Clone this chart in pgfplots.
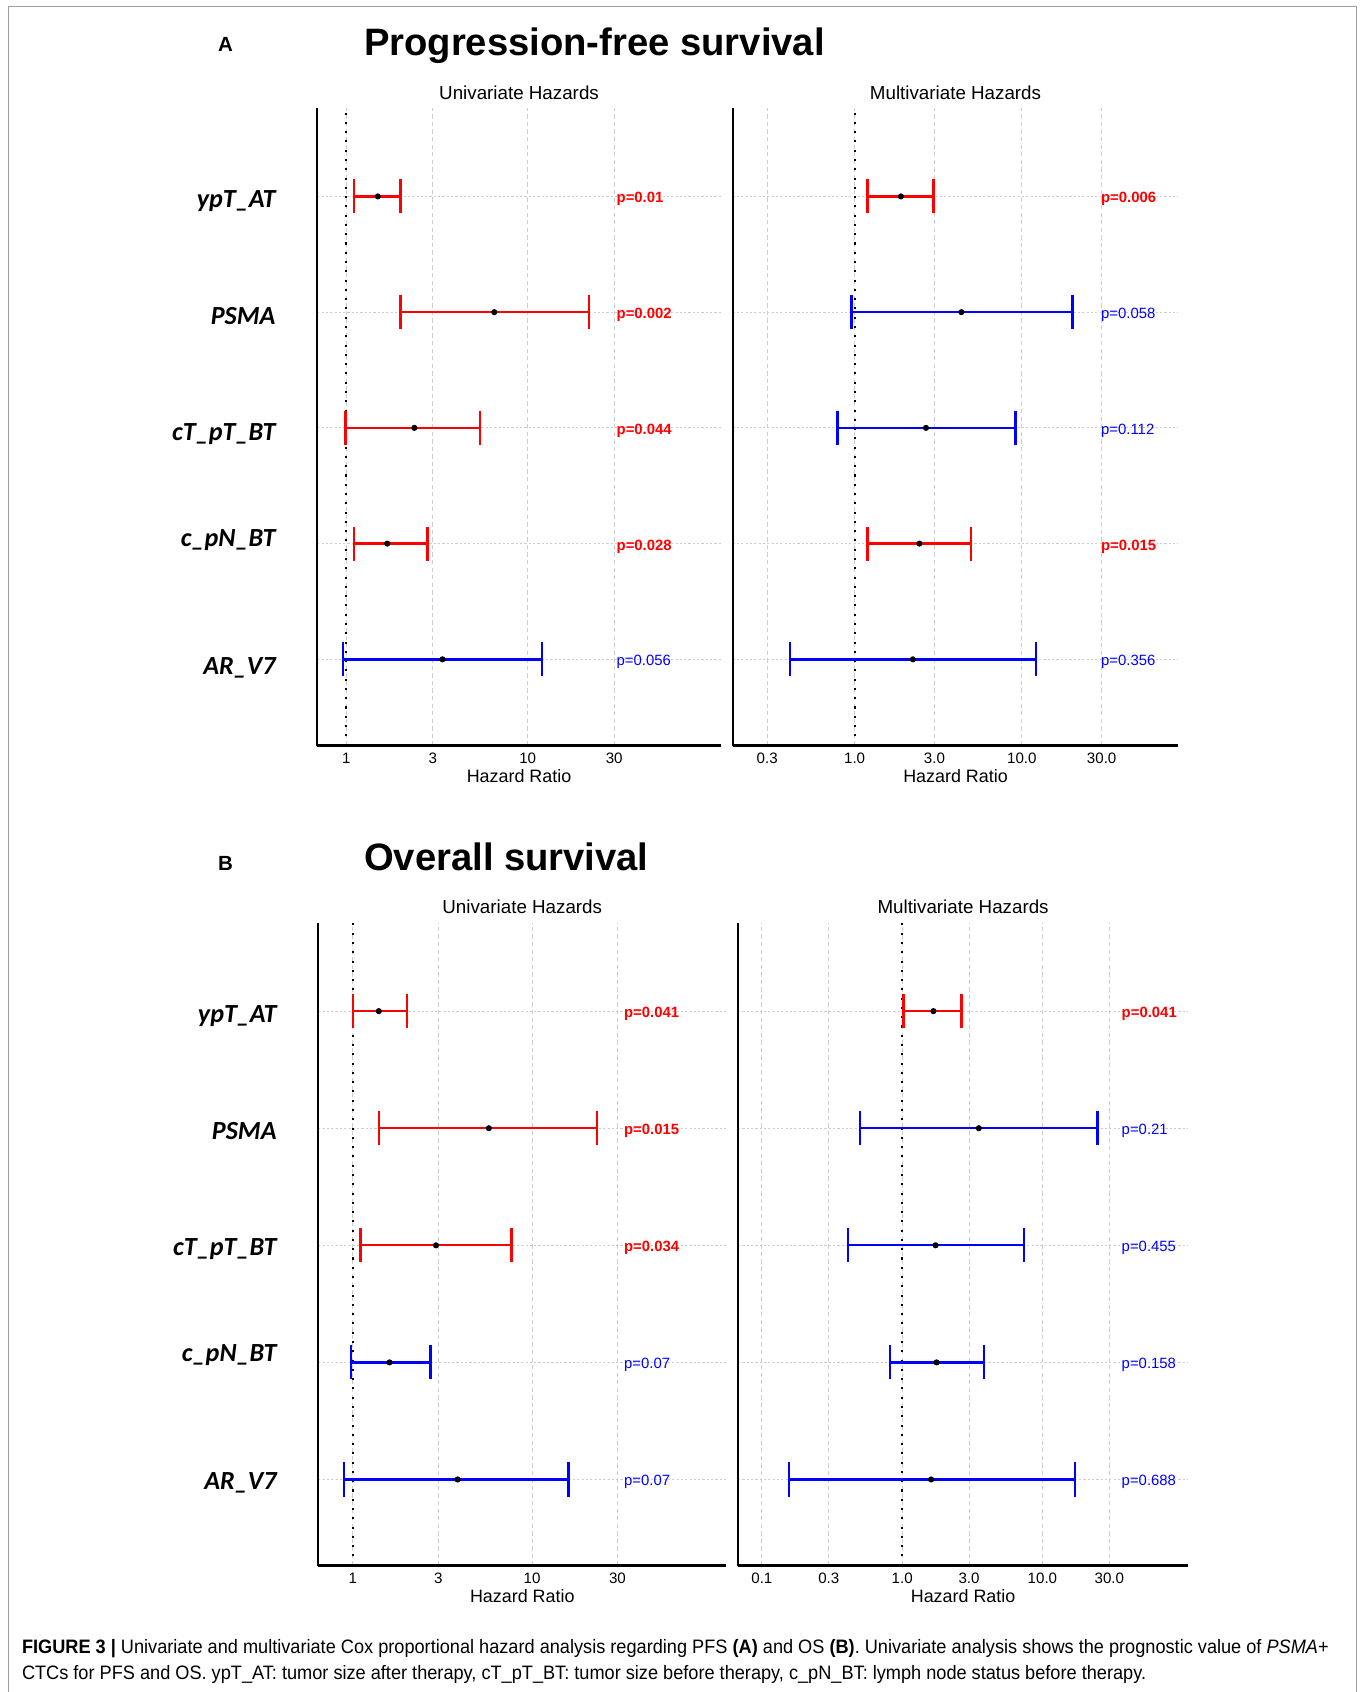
\documentclass[border=0pt]{standalone}
\usepackage{fontspec}
\setmainfont{Liberation Sans}
\newfontfamily\carlito{Carlito}
\newfontfamily\capfont[FakeStretch=0.935]{Liberation Sans}
\usepackage{pgfplots}
\pgfplotsset{compat=1.18}

\definecolor{pred}{RGB}{255,0,0}
\definecolor{pblue}{RGB}{0,0,255}
\definecolor{gridc}{RGB}{205,205,205}

\pgfplotsset{
  forest/.style={
    scale only axis,
    axis x line=bottom, axis y line=left,
    x axis line style={-, line width=1.4pt},
    y axis line style={-, line width=1pt},
    tick style={draw=none},
    minor tick length=0pt,
    xmajorgrids, ymajorgrids,
    x grid style={gridc, dash pattern=on 2pt off 1.5pt, line width=0.4pt},
    y grid style={gridc, dash pattern=on 1pt off 1pt, line width=0.4pt},
    ytick={1,2,3,4,5},
    yticklabel style={font=\carlito\bfseries\itshape\fontsize{12.1}{14}\selectfont, anchor=base east, inner sep=0pt, xshift=-17pt},
    xticklabel style={font=\fontsize{7}{8}\selectfont, anchor=base, inner sep=0pt, yshift=-6pt},
    title style={font=\fontsize{8.7}{10}\selectfont, at={(axis description cs:0.5,1)}, anchor=base, inner sep=0pt, yshift=-2pt},
    xlabel style={font=\fontsize{8.3}{10}\selectfont, at={(axis description cs:0.5,0)}, anchor=base, inner sep=0pt, yshift=-17pt},
    xlabel={Hazard Ratio},
    clip=false,
  },
}
\tikzset{
  ci/.style={line width=1.1pt, mark=|, mark size=7.9pt, mark options={solid, line width=1.1pt}},
  est/.style={mark=*, mark size=1.2pt, black, mark options={black}},
  refl/.style={black, line width=0.95pt, dash pattern=on 0.95pt off 3.35pt},
  pr/.style={anchor=base west, inner sep=0pt, yshift=-3pt, text=pred, font=\bfseries\fontsize{6.9}{8}\selectfont},
  pb/.style={anchor=base west, inner sep=0pt, yshift=-3pt, text=pblue, font=\fontsize{6.9}{8}\selectfont},
}

\newcommand{\ci}[4]{\addplot[ci, #1] coordinates {(#2,#4) (#3,#4)};}
\newcommand{\est}[2]{\addplot[only marks, est] coordinates {(#1,#2)};}

\begin{document}
\begin{tikzpicture}
\useasboundingbox (0pt,0pt) rectangle (631.5pt,-784pt);
\draw[gray!75, line width=0.7pt] (4pt,-784pt) -- (4pt,-3pt) -- (628.5pt,-3pt) -- (628.5pt,-784pt);

% Panel titles
\node[anchor=base, inner sep=0pt, font=\bfseries\fontsize{9.5}{11}\selectfont] at (104.5pt,-23.75pt) {A};
\node[anchor=base west, inner sep=0pt, font=\bfseries\fontsize{17.7}{20}\selectfont] at (168.5pt,-25.5pt) {Progression-free survival};
\node[anchor=base, inner sep=0pt, font=\bfseries\fontsize{9.5}{11}\selectfont] at (104.5pt,-403.25pt) {B};
\node[anchor=base west, inner sep=0pt, font=\bfseries\fontsize{17.7}{20}\selectfont] at (168.5pt,-403.5pt) {Overall survival};

% ---------- A: univariate ----------
\begin{axis}[xmode=log, forest, at={(147pt,-345.5pt)}, anchor=south west,
  width=187pt, height=295.5pt,
  xmin=0.6906, xmax=116.3, ymin=0.254, ymax=5.765,
  xtick={1,3,10,30}, xticklabels={1,3,10,30},
  yticklabels={\raisebox{-6.9pt}{AR\_V7}, \raisebox{-1.4pt}{c\_pN\_BT}\hspace{5pt}, \raisebox{-5.7pt}{cT\_pT\_BT}\hspace{1pt}, \raisebox{-5.7pt}{PSMA}\hspace{3.5pt}, \raisebox{-5pt}{ypT\_AT}\hspace{2pt}},
  title={Univariate Hazards}]
\addplot[refl] coordinates {(1,0.254) (1,5.765)};
\ci{pred}{1.10}{1.985}{5} \est{1.49}{5}
\ci{pred}{1.985}{21.8}{4} \est{6.54}{4}
\ci{pred}{0.99}{5.47}{3} \est{2.37}{3}
\ci{pred}{1.10}{2.80}{2} \est{1.68}{2}
\ci{pblue}{0.96}{11.95}{1} \est{3.39}{1}
\node[pr] at (axis cs:30.8,5) {p=0.01};
\node[pr] at (axis cs:30.8,4) {p=0.002};
\node[pr] at (axis cs:30.8,3) {p=0.044};
\node[pr] at (axis cs:30.8,2) {p=0.028};
\node[pb] at (axis cs:30.8,1) {p=0.056};
\end{axis}

% ---------- A: multivariate ----------
\begin{axis}[xmode=log, forest, at={(339.5pt,-345.5pt)}, anchor=south west,
  width=206.5pt, height=295.5pt,
  xmin=0.1866, xmax=86.2, ymin=0.254, ymax=5.765,
  xtick={0.3,1,3,10,30}, xticklabels={0.3,1.0,3.0,10.0,30.0},
  yticklabels={},
  title={Multivariate Hazards}]
\addplot[refl] coordinates {(1,0.254) (1,5.765)};
\ci{pred}{1.195}{2.96}{5} \est{1.89}{5}
\ci{pblue}{0.956}{20.1}{4} \est{4.35}{4}
\ci{pblue}{0.788}{9.15}{3} \est{2.67}{3}
\ci{pred}{1.195}{4.98}{2} \est{2.44}{2}
\ci{pblue}{0.41}{12.1}{1} \est{2.23}{1}
\node[pr] at (axis cs:29.6,5) {p=0.006};
\node[pb] at (axis cs:29.6,4) {p=0.058};
\node[pb] at (axis cs:29.6,3) {p=0.112};
\node[pr] at (axis cs:29.6,2) {p=0.015};
\node[pb] at (axis cs:29.6,1) {p=0.356};
\end{axis}

% ---------- B: univariate ----------
\begin{axis}[xmode=log, forest, at={(147.5pt,-725.5pt)}, anchor=south west,
  width=189pt, height=298pt,
  xmin=0.641, xmax=121.4, ymin=0.263, ymax=5.756,
  xtick={1,3,10,30}, xticklabels={1,3,10,30},
  yticklabels={\raisebox{-4.5pt}{AR\_V7}, \raisebox{0.3pt}{c\_pN\_BT}\hspace{5pt}, \raisebox{-4.6pt}{cT\_pT\_BT}\hspace{1pt}, \raisebox{-5.4pt}{PSMA}\hspace{3.5pt}, \raisebox{-5.4pt}{ypT\_AT}\hspace{2pt}},
  title={Univariate Hazards}]
\addplot[refl] coordinates {(1,0.263) (1,5.756)};
\ci{pred}{1.0}{2.0}{5} \est{1.395}{5}
\ci{pred}{1.395}{23.0}{4} \est{5.74}{4}
\ci{pred}{1.10}{7.68}{3} \est{2.91}{3}
\ci{pblue}{0.973}{2.71}{2} \est{1.60}{2}
\ci{pblue}{0.895}{16.0}{1} \est{3.84}{1}
\node[pr] at (axis cs:32.5,5) {p=0.041};
\node[pr] at (axis cs:32.5,4) {p=0.015};
\node[pr] at (axis cs:32.5,3) {p=0.034};
\node[pb] at (axis cs:32.5,2) {p=0.07};
\node[pb] at (axis cs:32.5,1) {p=0.07};
\end{axis}

% ---------- B: multivariate ----------
\begin{axis}[xmode=log, forest, at={(342pt,-725.5pt)}, anchor=south west,
  width=208.5pt, height=298pt,
  xmin=0.0677, xmax=109.2, ymin=0.263, ymax=5.756,
  xtick={0.1,0.3,1,3,10,30}, xticklabels={0.1,0.3,1.0,3.0,10.0,30.0},
  yticklabels={},
  title={Multivariate Hazards}]
\addplot[refl] coordinates {(1,0.263) (1,5.756)};
\ci{pred}{1.02}{2.65}{5} \est{1.67}{5}
\ci{pblue}{0.50}{24.7}{4} \est{3.52}{4}
\ci{pblue}{0.41}{7.4}{3} \est{1.73}{3}
\ci{pblue}{0.82}{3.84}{2} \est{1.76}{2}
\ci{pblue}{0.156}{17.0}{1} \est{1.61}{1}
\node[pr] at (axis cs:36.5,5) {p=0.041};
\node[pb] at (axis cs:36.5,4) {p=0.21};
\node[pb] at (axis cs:36.5,3) {p=0.455};
\node[pb] at (axis cs:36.5,2) {p=0.158};
\node[pb] at (axis cs:36.5,1) {p=0.688};
\end{axis}

% Caption
\node[anchor=base west, inner sep=0pt, font=\capfont\fontsize{9}{10}\selectfont] at (10pt,-766pt)
  {{\bfseries FIGURE 3 \textbar} Univariate and multivariate Cox proportional hazard analysis regarding PFS {\bfseries (A)} and OS {\bfseries (B)}. Univariate analysis shows the prognostic value of \textit{PSMA}+};
\node[anchor=base west, inner sep=0pt, font=\capfont\fontsize{9}{10}\selectfont] at (10pt,-778pt)
  {CTCs for PFS and OS. ypT\_AT: tumor size after therapy, cT\_pT\_BT: tumor size before therapy, c\_pN\_BT: lymph node status before therapy.};
\end{tikzpicture}
\end{document}
